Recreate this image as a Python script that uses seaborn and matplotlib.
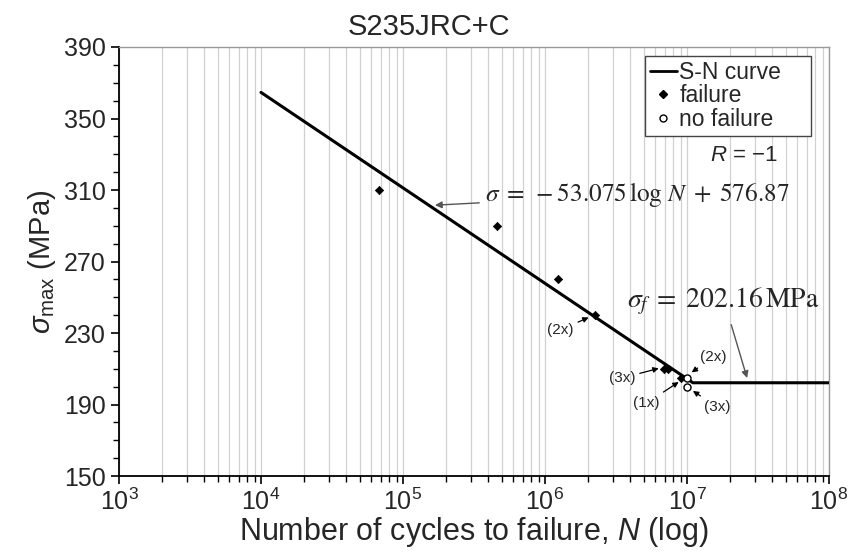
import numpy as np
import pandas as pd
import matplotlib
matplotlib.use("Agg")
import matplotlib.pyplot as plt
import seaborn as sns
from matplotlib.lines import Line2D
from matplotlib.ticker import LogLocator, MultipleLocator, NullFormatter

# ---- data ----
curve_N = [1.0e4, 1.1e7, 1.0e8]
curve_S = [364.6, 202.16, 202.16]

fail_N = [6.8e4, 4.6e5, 1.24e6, 2.25e6, 6.9e6, 7.3e6, 9.0e6]
fail_S = [310, 290, 260, 240, 210, 210, 205]

nofail_N = [1.0e7, 1.0e7]
nofail_S = [205, 200]

x_ticks = [1e3, 1e4, 1e5, 1e6, 1e7, 1e8]
x_ticklabels = [r"$10^{3}$", r"$10^{4}$", r"$10^{5}$", r"$10^{6}$", r"$10^{7}$", r"$10^{8}$"]
y_ticks = [150, 190, 230, 270, 310, 350, 390]

sns.set_theme(style="white")
plt.rcParams["font.family"] = ["Liberation Sans", "DejaVu Sans"]
plt.rcParams["mathtext.fontset"] = "custom"
plt.rcParams["mathtext.rm"] = "Liberation Sans"
plt.rcParams["mathtext.it"] = "Liberation Sans:italic"
plt.rcParams["mathtext.bf"] = "Liberation Sans:bold"

fig = plt.figure(figsize=(8.54, 5.6), dpi=100)
ax = fig.add_axes([119/854, 84/560, 710/854, 429/560])

curve_df = pd.DataFrame({"N": curve_N, "S": curve_S})
fail_df = pd.DataFrame({"N": fail_N, "S": fail_S})
nofail_df = pd.DataFrame({"N": nofail_N, "S": nofail_S})

ax.set_xscale("log")
ax.set_xlim(1e3, 1e8)
ax.set_ylim(150, 390)

# vertical grid
ax.xaxis.set_minor_locator(LogLocator(base=10, subs=np.arange(2, 10)))
ax.xaxis.set_minor_formatter(NullFormatter())
ax.grid(True, which="both", axis="x", color="#d0d0d0", linewidth=0.9)
ax.grid(False, axis="y")
ax.set_axisbelow(True)

sns.lineplot(data=curve_df, x="N", y="S", ax=ax, color="black", linewidth=2.2, zorder=3)
sns.scatterplot(data=fail_df, x="N", y="S", ax=ax, marker="D", s=18, color="black",
                edgecolor="black", linewidth=0.5, zorder=4)
sns.scatterplot(data=nofail_df, x="N", y="S", ax=ax, marker="o", s=26, facecolor="white",
                edgecolor="black", linewidth=1.0, zorder=5)

ax.set_xticks(x_ticks)
ax.set_xticklabels(x_ticklabels)
ax.set_yticks(y_ticks)
ax.yaxis.set_minor_locator(MultipleLocator(10))
ax.tick_params(axis="both", which="major", direction="out", length=6, width=1.2,
               color="black", labelsize=18, bottom=True, left=True, top=False, right=False)
ax.tick_params(axis="both", which="minor", direction="out", length=4, width=1.0,
               color="black", bottom=True, left=True, top=False, right=False)
ax.tick_params(axis="x", pad=3)

for s in ["left", "bottom"]:
    ax.spines[s].set_color("black")
    ax.spines[s].set_linewidth(1.3)
for s in ["top", "right"]:
    ax.spines[s].set_color("#999999")
    ax.spines[s].set_linewidth(1.0)

ax.set_xlabel(r"Number of cycles to failure, $\it{N}$ (log)", fontsize=22, labelpad=0)
ax.set_ylabel(r"$\sigma_{\mathrm{max}}$ (MPa)", fontsize=21, labelpad=4)
fig.text(429/854, (560-35)/560, "S235JRC+C", fontsize=21, ha="center", va="baseline")

handles = [
    Line2D([0], [0], color="black", linewidth=2.0, label="S-N curve    "),
    Line2D([0], [0], color="black", marker="D", markersize=4, linestyle="none", label="failure"),
    Line2D([0], [0], color="black", marker="o", markersize=5, markerfacecolor="white",
           linestyle="none", label="no failure"),
]
leg = ax.legend(handles=handles, loc="upper right", bbox_to_anchor=(0.975, 0.978),
                fontsize=16.5, frameon=True, fancybox=False, framealpha=1, edgecolor="#444444",
                handlelength=1.2, handletextpad=0.1, borderpad=0.2, labelspacing=0.02,
                borderaxespad=0)
leg.get_frame().set_linewidth(1.0)

ax.text(0.928, 0.748, r"$R$ = $-$1", transform=ax.transAxes, ha="right", va="center", fontsize=16)

# equations (serif)
ax.annotate(r"$\sigma\;=\;-53.075\,\log\,N\;+\;576.87$", xy=(1.68e5, 301.5), xytext=(3.8e5, 307.5),
            fontsize=18.2, math_fontfamily="stix", va="center", ha="left",
            arrowprops=dict(arrowstyle="-|>", color="#555555", lw=1.0, mutation_scale=10,
                            shrinkA=2, shrinkB=0))
ax.annotate(r"$\sigma_f\;=\;202.16\,\mathrm{MPa}$", xy=(2.65e7, 204.8), xytext=(3.78e6, 247.5),
            fontsize=20, math_fontfamily="stix", va="center", ha="left",
            arrowprops=dict(arrowstyle="-|>", color="#555555", lw=1.0, mutation_scale=10,
                            shrinkA=3, shrinkB=0, relpos=(0.53, 0.0)))

lab_kw = dict(fontsize=11, va="center", ha="center",
              arrowprops=dict(arrowstyle="-|>", color="black", lw=0.9, mutation_scale=8, shrinkA=1, shrinkB=1))
ax.annotate("(2x)", xy=(2.07e6, 239), xytext=(1.28e6, 231.7), **lab_kw)
ax.annotate("(3x)", xy=(6.46e6, 210.4), xytext=(3.48e6, 204.8), **lab_kw)
ax.annotate("(1x)", xy=(8.9e6, 203), xytext=(5.2e6, 190.8), **lab_kw)
ax.annotate("(2x)", xy=(1.06e7, 207.5), xytext=(1.52e7, 216.6), **lab_kw)
ax.annotate("(3x)", xy=(1.08e7, 198), xytext=(1.63e7, 188.6), **lab_kw)

fig.savefig("out.png", dpi=100)
